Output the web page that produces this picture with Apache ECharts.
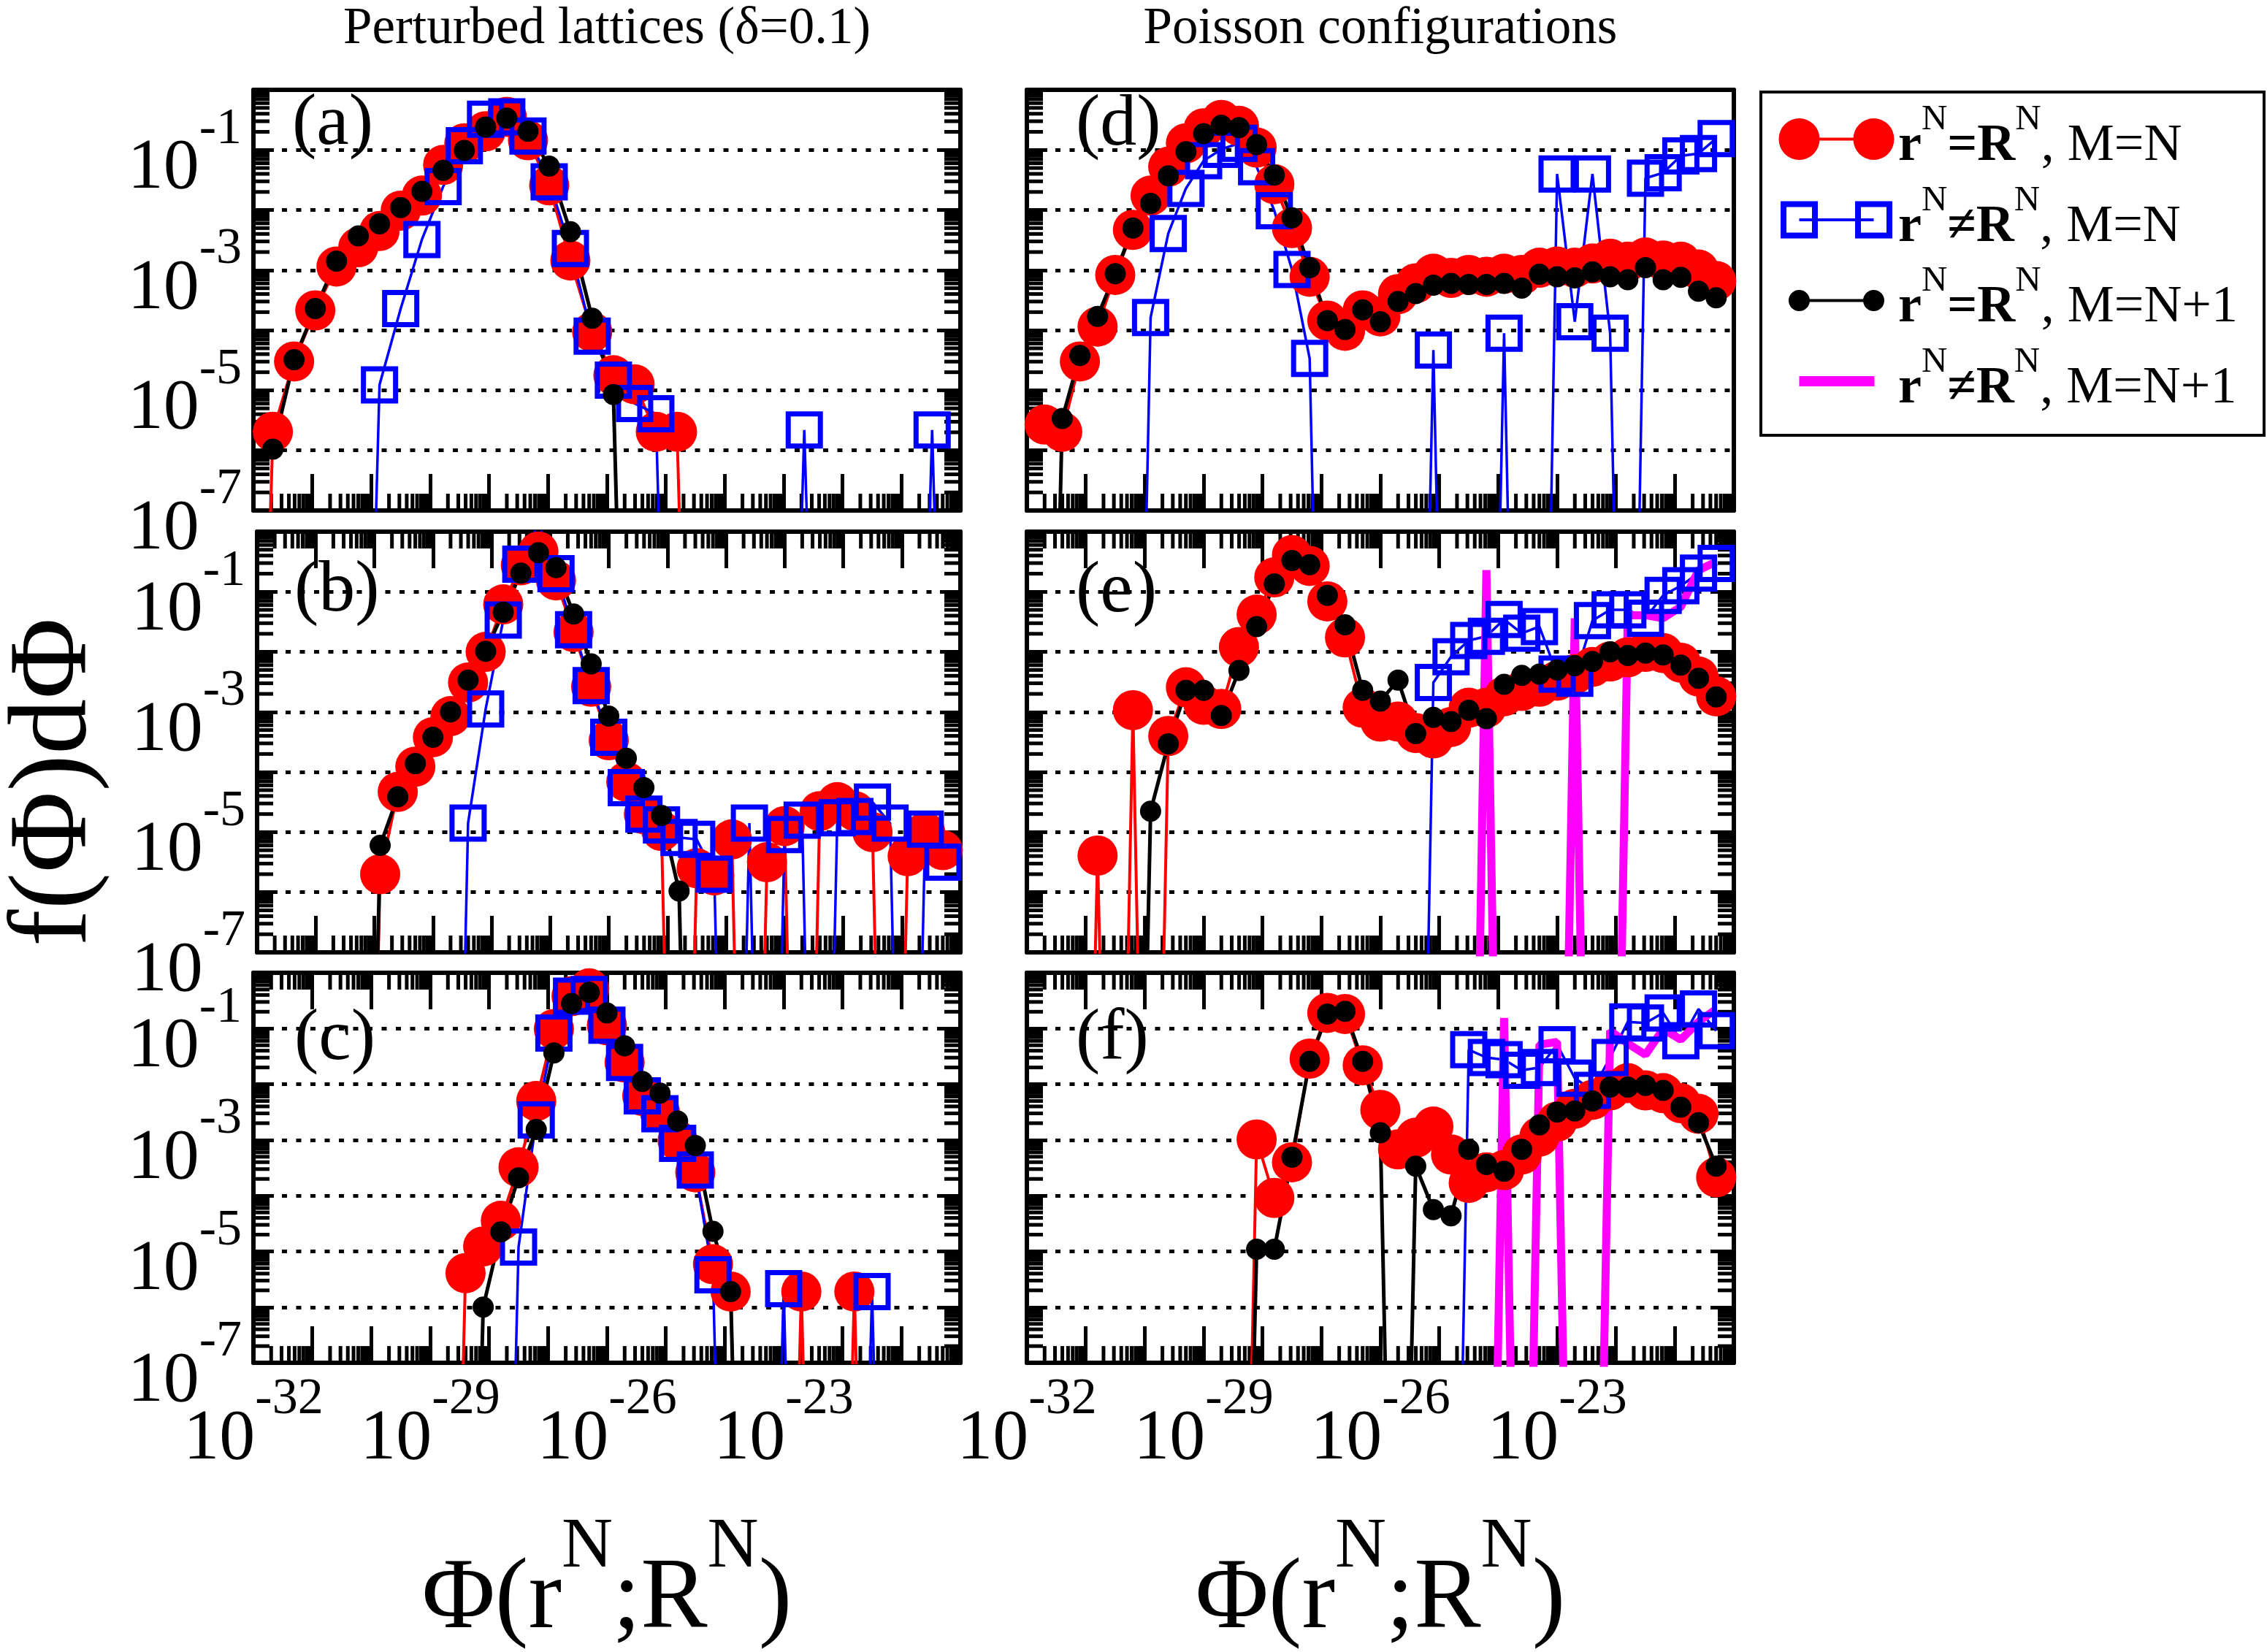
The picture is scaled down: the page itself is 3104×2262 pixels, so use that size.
<!DOCTYPE html>
<html lang="en">
<head>
<meta charset="UTF-8">
<title>f(Phi)dPhi</title>
<script src="https://cdn.jsdelivr.net/npm/echarts@6/dist/echarts.min.js"></script>
<style>
    html, body { margin: 0; padding: 0; background: #fff; }
    #main { width: 3104px; height: 2262px; }
</style>
</head>
<body>
<div id="main"></div>
<script type="text/javascript">
// every value is a log10 exponent, null = empty bin (f = 0)
var xTickLabels = [-32, -29, -26, -23];
var yTickLabels = [-7, -5, -3, -1];

// bin centres, log10(Phi)
var binsA = [-32.03, -31.67, -31.31, -30.95, -30.59, -30.22, -29.86, -29.50, -29.14, -28.78,
    -28.42, -28.06, -27.70, -27.34, -26.98, -26.62, -26.25, -25.89, -25.53, -25.17,
    -24.81, -24.45, -24.09, -23.73, -23.37, -23.01, -22.65, -22.28, -21.92, -21.56,
    -21.20, -20.84, -20.48, -20.12];
var binsB = [-31.70, -31.40, -31.10, -30.80, -30.50, -30.20, -29.90, -29.60, -29.30, -29.00,
    -28.70, -28.40, -28.10, -27.80, -27.50, -27.20, -26.90, -26.60, -26.30, -26.00,
    -25.70, -25.40, -25.10, -24.80, -24.50, -24.20, -23.90, -23.60, -23.30, -23.00,
    -22.70, -22.40, -22.10, -21.80, -21.50, -21.20, -20.90, -20.60, -20.30];

// (a)
var aRed = [null, -5.69, -4.52, -3.67, -2.94, -2.62, -2.35, -2.01, -1.76, -1.25,
    -0.89, -0.69, -0.45, -0.84, -1.59, -2.84, -4.03, -4.75, -4.90, -5.69,
    -5.69, null, null, null, null, null, null, null, null, null,
    null, null, null, null];
var aBlue = [null, null, null, null, null, null, -4.91, -3.64, -2.49, -1.61,
    -0.93, -0.49, -0.45, -0.77, -1.53, -2.64, -4.10, -4.83, -5.22, -5.39,
    null, null, null, null, null, null, -5.66, null, null, null,
    null, null, -5.66, null];
var aBlack = [-5.74, -5.98, -4.49, -3.64, -2.85, -2.43, -2.23, -1.96, -1.69, -1.34,
    -1.01, -0.62, -0.47, -0.69, -1.27, -2.36, -3.80, -5.07, null, null,
    null, null, null, null, null, null, null, null, null, null,
    null, null, null, null];

// (b)
var bRed = [null, null, null, null, null, null, -5.70, -4.33, -3.91, -3.42,
    -3.07, -2.51, -2.00, -1.21, -0.56, -0.33, -0.81, -1.67, -2.58, -3.47,
    -4.16, -4.70, -4.98, null, -5.60, -5.72, -5.12, null, -5.50, -4.90,
    null, -4.65, -4.50, -4.65, -5.00, null, -5.40, -5.00, -5.30];
var bBlue = [null, null, null, null, null, null, null, null, null, null,
    null, -4.85, -2.95, -1.47, -0.54, 0.15, -0.70, -1.63, -2.56, -3.42,
    -4.26, -4.70, -4.88, -5.09, -5.12, -5.70, null, -4.85, null, -5.04,
    -4.80, null, -4.76, -4.74, -4.50, -4.85, null, -4.95, -5.50];
var bBlack = [null, null, null, null, null, null, -5.22, -4.41, -3.86, -3.42,
    -3.00, -2.47, -1.99, -1.34, -0.69, -0.35, -0.60, -1.37, -2.20, -3.07,
    -3.77, -4.26, -4.72, -5.98, null, null, null, null, null, null,
    null, null, null, null, null, null, null, null, null];

// (c)
var cRed = [null, null, null, null, null, null, null, null, null, null,
    null, -5.39, -4.91, -4.45, -3.49, -2.30, -1.01, -0.42, -0.28, -0.94,
    -1.61, -2.21, -2.50, -3.01, -3.58, -5.23, -5.72, null, null, null,
    -5.72, null, null, -5.72, null, null, null, null, null];
var cBlue = [null, null, null, null, null, null, null, null, null, null,
    null, null, null, null, -4.92, -2.64, -1.08, -0.42, -0.39, -0.94,
    -1.61, -2.21, -2.53, -3.06, -3.54, -5.42, null, null, null, -5.67,
    null, null, null, null, -5.72, null, null, null, null];
var cBlack = [null, null, null, null, null, null, null, null, null, null,
    null, null, -6.00, -4.65, -3.68, -2.81, -1.44, -0.55, -0.35, -0.72,
    -1.31, -1.95, -2.16, -2.66, -3.10, -4.64, -5.72, null, null, null,
    null, null, null, null, null, null, null, null, null];

// (d)
var dRed = [-5.57, -5.69, -4.52, -3.94, -3.08, -2.33, -1.76, -1.28, -0.89, -0.64,
    -0.50, -0.60, -0.96, -1.57, -2.30, -3.11, -3.84, -4.01, -3.67, -3.77,
    -3.40, -3.22, -3.06, -3.13, -3.08, -3.11, -3.06, -3.08, -2.96, -2.94,
    -2.96, -2.89, -2.81, -2.86, -2.79, -2.84, -2.86, -2.99, -3.18];
var dBlue = [null, null, null, null, null, null, -3.79, -2.39, -1.64, -1.18,
    -0.99, -0.89, -1.28, -2.01, -2.99, -4.47, null, null, null, null,
    null, null, -4.33, null, null, null, -4.05, null, null, -1.40,
    -3.86, -1.40, -4.05, null, -1.47, -1.38, -1.10, -1.06, -0.81];
var dBlack = [null, -5.47, -4.42, -3.77, -3.06, -2.30, -1.89, -1.43, -1.03, -0.73,
    -0.59, -0.63, -0.91, -1.42, -2.13, -2.96, -3.84, -3.99, -3.66, -3.86,
    -3.52, -3.39, -3.25, -3.22, -3.24, -3.24, -3.22, -3.30, -3.07, -3.11,
    -3.13, -3.03, -3.11, -3.16, -2.96, -3.16, -3.12, -3.35, -3.46];

// (e)
var eRed = [null, null, null, -5.39, null, -2.97, null, -3.40, -2.59, -2.88,
    -2.95, -1.92, -1.38, -0.76, -0.39, -0.57, -1.16, -1.76, -2.93, -3.16,
    -3.16, -3.35, -3.44, -3.25, -2.93, -2.93, -2.74, -2.65, -2.58, -2.48,
    -2.37, -2.25, -2.16, -2.09, -2.00, -2.02, -2.18, -2.41, -2.74];
var eBlue = [null, null, null, null, null, null, null, null, null, null,
    null, null, null, null, null, null, null, null, null, null,
    null, null, -2.51, -2.08, -1.81, -1.74, -1.46, -1.69, -1.58, -2.37,
    -2.44, -1.48, -1.30, -1.30, -1.44, -1.06, -0.90, -0.69, -0.53];
var eBlack = [null, null, null, null, null, null, -4.65, -3.53, -2.64, -2.64,
    -3.06, -2.31, -1.58, -0.87, -0.48, -0.55, -1.06, -1.55, -2.64, -2.82,
    -2.47, -3.36, -3.09, -3.16, -2.97, -3.11, -2.54, -2.39, -2.37, -2.30,
    -2.23, -2.16, -2.00, -2.06, -2.02, -2.05, -2.22, -2.44, -2.75];
var eMag = [null, null, null, null, null, null, null, null, null, null,
    null, null, null, null, null, null, null, null, null, null,
    null, null, null, null, null, -0.64, null, null, null, null,
    -1.44, null, null, -1.39, -1.39, -1.44, -1.25, -0.64, -0.50];

// (f)
var fRed = [null, null, null, null, null, null, null, null, null, null,
    null, null, -2.99, -4.04, -3.40, -1.54, -0.72, -0.74, -1.66, -2.46,
    -3.17, -2.96, -2.76, -3.26, -3.77, -3.58, -3.54, -3.26, -2.94, -2.67,
    -2.44, -2.28, -2.11, -1.98, -2.11, -2.16, -2.34, -2.53, -3.67];
var fBlue = [null, null, null, null, null, null, null, null, null, null,
    null, null, null, null, null, null, null, null, null, null,
    null, null, null, null, -1.38, -1.52, -1.56, -1.75, -1.70, -1.29,
    -1.89, -2.11, -1.52, -0.88, -0.90, -0.72, -1.22, -0.65, -1.04];
var fBlack = [null, null, null, null, null, null, null, null, null, null,
    null, null, -4.96, -4.96, -3.31, -1.59, -0.74, -0.69, -1.59, -2.87,
    null, -3.47, -4.25, -4.36, -3.17, -3.44, -3.56, -3.17, -2.73, -2.50,
    -2.48, -2.30, -2.05, -2.05, -2.02, -2.11, -2.41, -2.69, -3.47];
var fMag = [null, null, null, null, null, null, null, null, null, null,
    null, null, null, null, null, null, null, null, null, null,
    null, null, null, null, null, null, -0.81, null, -1.29, -1.24,
    null, null, -1.04, -1.27, -1.47, -1.01, -1.20, -0.88, -0.65];

var NAMES = ['r^N=R^N, M=N', 'r^N\u2260R^N, M=N', 'r^N=R^N, M=N+1', 'r^N\u2260R^N, M=N+1'];
var legendText = {};
legendText[NAMES[0]] = '{b|r}{s|N}{b|=R}{s|N}{n|, M=N}';
legendText[NAMES[1]] = '{b|r}{s|N}{b|\u2260R}{s|N}{n|, M=N}';
legendText[NAMES[2]] = '{b|r}{s|N}{b|=R}{s|N}{n|, M=N+1}';
legendText[NAMES[3]] = '{b|r}{s|N}{b|\u2260R}{s|N}{n|, M=N+1}';
var colTitles = ['Perturbed lattices (\u03b4=0.1)', 'Poisson configurations'];

var F = "'Liberation Serif', 'Times New Roman', serif";
var ZERO = -18;   // an empty bin is drawn far below the frame
var colLeft = [347, 1406], rowTop = [123, 728, 1332], GW = 968, GH = 576;

var panels = [
    {tag: '(a)', col: 0, row: 0, bins: binsA, red: aRed, blue: aBlue, black: aBlack, mag: null, top: false, right: true, lx: 400, ly: 121},
    {tag: '(b)', col: 0, row: 1, bins: binsB, red: bRed, blue: bBlue, black: bBlack, mag: null, top: true, right: true, lx: 403, ly: 760},
    {tag: '(c)', col: 0, row: 2, bins: binsB, red: cRed, blue: cBlue, black: cBlack, mag: null, top: true, right: true, lx: 403, ly: 1374},
    {tag: '(d)', col: 1, row: 0, bins: binsB, red: dRed, blue: dBlue, black: dBlack, mag: null, top: false, right: false, lx: 1473, ly: 122},
    {tag: '(e)', col: 1, row: 1, bins: binsB, red: eRed, blue: eBlue, black: eBlack, mag: eMag, top: true, right: true, lx: 1473, ly: 761},
    {tag: '(f)', col: 1, row: 2, bins: binsB, red: fRed, blue: fBlue, black: fBlack, mag: fMag, top: true, right: true, lx: 1473, ly: 1374}
];

function pts(bins, ys) {
    return bins.map(function (x, i) { return [x, ys[i] === null ? ZERO : ys[i]]; });
}

// log-spaced minor tick positions (2..9 in every decade)
var minorTicks = [];
for (var d = -32; d < -20; d++) {
    for (var m = 2; m < 10; m++) minorTicks.push([d + Math.log10(m), 0]);
}
for (var e = -7; e < 0; e++) {
    for (var m2 = 2; m2 < 10; m2++) minorTicks.push([e + Math.log10(m2), 1]);
}

function tickRenderer(p) {
    return function (params, api) {
        var cs = params.coordSys;
        var v = api.value(0), kind = api.value(1);
        var st = {stroke: '#000', lineWidth: 5};
        var kids = [];
        if (kind === 0) {
            var x = api.coord([v, -7])[0];
            var b = cs.y + cs.height;
            kids.push({type: 'line', shape: {x1: x, y1: b, x2: x, y2: b - 23}, style: st});
            if (p.top) kids.push({type: 'line', shape: {x1: x, y1: cs.y, x2: x, y2: cs.y + 23}, style: st});
        } else {
            var y = api.coord([-32, v])[1];
            kids.push({type: 'line', shape: {x1: cs.x, y1: y, x2: cs.x + 22, y2: y}, style: st});
            if (p.right) kids.push({type: 'line', shape: {x1: cs.x + cs.width, y1: y, x2: cs.x + cs.width - 22, y2: y}, style: st});
        }
        return {type: 'group', children: kids};
    };
}

// "10" with a raised exponent
var expRich = {
    b: {fontFamily: F, fontSize: 98, lineHeight: 126, padding: [52, 0, 0, 0], color: '#000'},
    s: {fontFamily: F, fontSize: 70, lineHeight: 60, verticalAlign: 'top', color: '#000'}
};
var nameRich = {
    p: {fontFamily: F, fontSize: 137, lineHeight: 140, padding: [103, 0, 0, 0], color: '#000'},
    q: {fontFamily: F, fontSize: 97, lineHeight: 97, verticalAlign: 'top', color: '#000'}
};
function xLab(v) { return xTickLabels.indexOf(v) >= 0 ? '{b|10}{s|' + v + '}' : ''; }
function yLab(v) { return yTickLabels.indexOf(v) >= 0 ? '{b|10}{s|' + v + '}' : ''; }

var frame = {onZero: false, lineStyle: {color: '#000', width: 6}};
var grids = [], xAxes = [], yAxes = [], series = [], titles = [];

panels.forEach(function (p, i) {
    var bottomRow = p.row === 2, leftCol = p.col === 0;
    grids.push({left: colLeft[p.col], top: rowTop[p.row], width: GW, height: GH});

    xAxes.push({
        gridIndex: i, type: 'value', min: -32, max: -20, interval: 1, position: 'bottom',
        axisLine: frame,
        axisTick: {inside: true, length: 50, lineStyle: {color: '#000', width: 5}},
        axisLabel: {show: bottomRow, margin: 16, formatter: xLab, rich: expRich},
        splitLine: {show: false},
        name: bottomRow ? '{p|\u03a6(r}{q|N}{p|;R}{q|N}{p|)}' : '',
        nameLocation: 'middle', nameGap: 158, nameTextStyle: {rich: nameRich}
    });
    xAxes.push({
        gridIndex: i, type: 'value', min: -32, max: -20, interval: 1, position: 'top',
        axisLine: frame,
        axisTick: {show: p.top, inside: true, length: 50, lineStyle: {color: '#000', width: 5}},
        axisLabel: {show: false}, splitLine: {show: false},
        name: p.row === 0 ? colTitles[p.col] : '',
        nameLocation: 'middle', nameGap: 47,
        nameTextStyle: {fontFamily: F, fontSize: 71, lineHeight: 71, color: '#000'}
    });
    yAxes.push({
        gridIndex: i, type: 'value', min: -7, max: 0, interval: 1, position: 'left',
        axisLine: frame,
        axisTick: {inside: true, length: 28, lineStyle: {color: '#000', width: 5}},
        axisLabel: {show: leftCol, margin: 16, formatter: yLab, rich: expRich},
        splitLine: {show: true, lineStyle: {color: '#000', width: 5, type: [7, 12.5]}},
        name: (leftCol && p.row === 1) ? 'f(\u03a6)d\u03a6' : '',
        nameLocation: 'middle', nameGap: 200,
        nameTextStyle: {fontFamily: F, fontSize: 152, lineHeight: 150, padding: [0, 110, 0, 0], color: '#000'}
    });
    yAxes.push({
        gridIndex: i, type: 'value', min: -7, max: 0, interval: 1, position: 'right',
        axisLine: frame,
        axisTick: {show: p.right, inside: true, length: 28, lineStyle: {color: '#000', width: 5}},
        axisLabel: {show: false}, splitLine: {show: false}
    });

    series.push({
        type: 'custom', name: 'ticks' + i, xAxisIndex: 2 * i, yAxisIndex: 2 * i,
        data: minorTicks, renderItem: tickRenderer(p), silent: true, z: 1
    });
    series.push({
        type: 'line', name: NAMES[0], xAxisIndex: 2 * i, yAxisIndex: 2 * i, data: pts(p.bins, p.red),
        color: '#ff0000', symbol: 'circle', symbolSize: 55,
        itemStyle: {color: '#ff0000'}, lineStyle: {color: '#ff0000', width: 4}
    });
    series.push({
        type: 'line', name: NAMES[1], xAxisIndex: 2 * i, yAxisIndex: 2 * i, data: pts(p.bins, p.blue),
        color: '#0000ff', symbol: 'rect', symbolSize: 44,
        itemStyle: {color: 'rgba(0,0,0,0)', borderColor: '#0000ff', borderWidth: 7},
        lineStyle: {color: '#0000ff', width: 3.5}
    });
    series.push({
        type: 'line', name: NAMES[2], xAxisIndex: 2 * i, yAxisIndex: 2 * i, data: pts(p.bins, p.black),
        color: '#000000', symbol: 'circle', symbolSize: 29,
        itemStyle: {color: '#000000'}, lineStyle: {color: '#000000', width: 5}
    });
    if (p.mag) {
        series.push({
            type: 'line', name: NAMES[3], xAxisIndex: 2 * i, yAxisIndex: 2 * i, data: pts(p.bins, p.mag),
            color: '#ff00ff', symbol: 'none', lineStyle: {color: '#ff00ff', width: 11}
        });
    }

    titles.push({
        text: p.tag, left: p.lx, top: p.ly, padding: 0,
        textStyle: {fontFamily: F, fontSize: 100, fontWeight: 'normal', lineHeight: 100, color: '#000'}
    });
});

series.forEach(function (s) {
    if (s.type === 'line') {
        s.clip = true;
        s.silent = true;
        s.z = 2;
        s.emphasis = {disabled: true};
    }
});

// legend icons: two symbols joined by a line (bounding points at 0,0 and 159,57)
var BOX = 'M0,0L0.1,0L0.1,0.1Z M159,57L158.9,57L158.9,56.9Z ';
var iconRed = 'path://' + BOX +
    'M0.5,28.5A28,28.5 0 1,1 56.5,28.5A28,28.5 0 1,1 0.5,28.5Z ' +
    'M102.5,28.5A28,28.5 0 1,1 158.5,28.5A28,28.5 0 1,1 102.5,28.5Z ' +
    'M28.5,26.5L130.5,26.5L130.5,30.5L28.5,30.5Z';
var iconBlue = 'path://' + BOX +
    'M3,3L54,3L54,54L3,54Z M11,11L11,46L46,46L46,11Z ' +
    'M105,3L156,3L156,54L105,54Z M113,11L113,46L148,46L148,11Z ' +
    'M28.5,26.5L130.5,26.5L130.5,30.5L28.5,30.5Z';
var iconBlack = 'path://' + BOX +
    'M14,28.5A14.5,14.5 0 1,1 43,28.5A14.5,14.5 0 1,1 14,28.5Z ' +
    'M116,28.5A14.5,14.5 0 1,1 145,28.5A14.5,14.5 0 1,1 116,28.5Z ' +
    'M28.5,26.5L130.5,26.5L130.5,30.5L28.5,30.5Z';
var iconMag = 'path://' + BOX + 'M28.5,21.5L131.5,21.5L131.5,35.5L28.5,35.5Z';

var option = {
    backgroundColor: '#fff',
    animation: false,
    textStyle: {fontFamily: F},
    title: titles,
    grid: grids,
    xAxis: xAxes,
    yAxis: yAxes,
    legend: {
        orient: 'vertical', left: 2411, top: 126,
        padding: [14, 36, 28, 24], itemGap: 14, itemWidth: 159, itemHeight: 57, itemTextGap: 25,
        borderColor: '#000', borderWidth: 4, backgroundColor: '#fff', selectedMode: false,
        formatter: function (name) { return legendText[name]; },
        textStyle: {
            color: '#000',
            rich: {
                b: {fontFamily: F, fontSize: 72, fontWeight: 'bold', lineHeight: 101, padding: [20, 0, 0, 0], color: '#000'},
                n: {fontFamily: F, fontSize: 72, lineHeight: 101, padding: [20, 0, 0, 0], color: '#000'},
                s: {fontFamily: F, fontSize: 49, lineHeight: 49, verticalAlign: 'top', color: '#000'}
            }
        },
        data: [
            {name: NAMES[0], icon: iconRed, itemStyle: {color: '#ff0000', borderWidth: 0}},
            {name: NAMES[1], icon: iconBlue, itemStyle: {color: '#0000ff', borderWidth: 0}},
            {name: NAMES[2], icon: iconBlack, itemStyle: {color: '#000000', borderWidth: 0}},
            {name: NAMES[3], icon: iconMag, itemStyle: {color: '#ff00ff', borderWidth: 0}}
        ]
    },
    series: series
};

var myChart = echarts.init(document.getElementById('main'));
myChart.setOption(option);
</script>
</body>
</html>
